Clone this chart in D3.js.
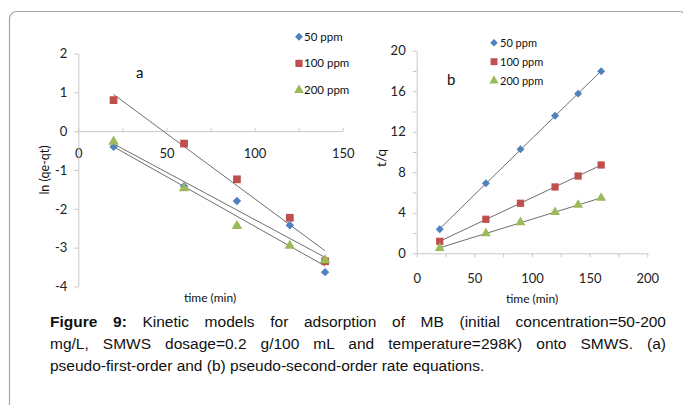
<!DOCTYPE html>
<html><head><meta charset="utf-8">
<script src="https://cdn.jsdelivr.net/npm/d3@7"></script>
<style>body{margin:0;background:#fff}svg{display:block}</style>
</head><body>
<script>
// ---- data ----
const seriesNames = ["50 ppm", "100 ppm", "200 ppm"];
const seriesColors = ["#4F81BD", "#C0504D", "#9BBB59"];
// (a) pseudo-first-order
const timesA = [20, 60, 90, 120, 140];
const lnA50  = [-0.40, -1.42, -1.80, -2.42, -3.63];
const lnA100 = [0.80, -0.32, -1.24, -2.23, -3.35];
const lnA200 = [-0.27, -1.47, -2.44, -2.95, -3.32];
const ticksAx = [0, 25, 50, 75, 100, 125, 150];
const ticksAy = [-4, -3, -2, -1, 0, 1, 2];
// (b) pseudo-second-order
const timesB = [20, 60, 90, 120, 140, 160];
const tqB50  = [2.37, 6.91, 10.27, 13.58, 15.76, 17.97];
const tqB100 = [1.18, 3.36, 4.94, 6.55, 7.63, 8.72];
const tqB200 = [0.52, 1.97, 3.06, 4.05, 4.77, 5.46];
const ticksBx = [0, 25, 50, 75, 100, 125, 150, 175, 200];
const ticksBy = [0, 2, 4, 6, 8, 10, 12, 14, 16, 18, 20];
const caption = [
  ["Figure 9:", " Kinetic models for adsorption of MB (initial concentration=50-200"],
  ["", "mg/L, SMWS dosage=0.2 g/100 mL and temperature=298K) onto SMWS. (a)"],
  ["", "pseudo-first-order and (b) pseudo-second-order rate equations."]
];

const W = 683, H = 405;
const svg = d3.select("body").append("svg").attr("width", W).attr("height", H);
svg.append("rect").attr("x", 9.5).attr("y", 11.5).attr("width", 677).attr("height", 430)
  .attr("rx", 7).attr("fill", "none").attr("stroke", "#a6a6a6").attr("stroke-width", 1.2);

const chartFont = "Lato, 'Open Sans', sans-serif";
const axisCol = "#c8c8c8";

function regression(xs, ys) {
  const n = xs.length, mx = d3.mean(xs), my = d3.mean(ys);
  let sxy = 0, sxx = 0;
  for (let i = 0; i < n; i++) { sxy += (xs[i]-mx)*(ys[i]-my); sxx += (xs[i]-mx)**2; }
  const b = sxy / sxx, a = my - b*mx;
  return x => a + b*x;
}

function markers(g, xs, ys, x, y, idx, sz) {
  const sym = [d3.symbolSquare, d3.symbolSquare, d3.symbolTriangle][idx];
  const size = [sz*0.75, sz*1.25, sz][idx];
  g.selectAll(null).data(xs.map((t, i) => [t, ys[i]])).join("path")
    .attr("d", d3.symbol().type(sym).size(size))
    .attr("transform", d => `translate(${x(d[0])},${y(d[1])})` + (idx === 0 ? " rotate(45)" : ""))
    .attr("fill", seriesColors[idx]);
}

function styleAxis(g, fs) {
  g.select(".domain").attr("stroke", axisCol);
  g.selectAll(".tick line").attr("stroke", axisCol);
  g.selectAll("text").attr("font-family", chartFont).attr("font-size", fs).attr("fill", "#222");
}

function drawChart(opt) {
  const { x, y, times, sets, ticksX, ticksY, xAxisY, xPad, xTickSize, label, labelPos,
          yTitle, yTitlePos, yTitleFs, xTitlePos, legend, markerSize } = opt;
  const g = svg.append("g");
  const gx = g.append("g").attr("transform", `translate(0,${xAxisY})`)
    .call(d3.axisBottom(x).tickValues(ticksX).tickFormat(d => d % 50 === 0 ? d : "")
      .tickSizeInner(xTickSize).tickSizeOuter(0).tickPadding(xPad));
  styleAxis(gx, 13);
  const gy = g.append("g").attr("transform", `translate(${x.range()[0]},0)`)
    .call(d3.axisLeft(y).tickValues(ticksY).tickFormat(d => opt.yFmt(d) ? d : "")
      .tickSize(4).tickSizeOuter(0).tickPadding(7));
  styleAxis(gy, 13);

  sets.forEach((ys, i) => {
    const f = regression(times, ys);
    const x0 = d3.min(times), x1 = d3.max(times);
    g.append("line").attr("x1", x(x0)).attr("y1", y(f(x0))).attr("x2", x(x1)).attr("y2", y(f(x1)))
      .attr("stroke", "#6e6e6e").attr("stroke-width", 1);
  });
  sets.forEach((ys, i) => markers(g, times, ys, x, y, i, markerSize));

  g.append("text").attr("x", labelPos[0]).attr("y", labelPos[1]).text(label)
    .attr("font-family", chartFont).attr("font-size", 15).attr("fill", "#111");
  g.append("text").attr("transform", `translate(${yTitlePos[0]},${yTitlePos[1]}) rotate(-90)`)
    .attr("text-anchor", "middle").attr("dy", "0.35em").text(yTitle)
    .attr("font-family", chartFont).attr("font-size", yTitleFs).attr("fill", "#111");
  g.append("text").attr("x", xTitlePos[0]).attr("y", xTitlePos[1]).attr("text-anchor", "middle")
    .attr("dy", "0.35em").text("time (min)")
    .attr("font-family", chartFont).attr("font-size", 12).attr("fill", "#111");

  const lg = g.append("g");
  seriesNames.forEach((name, i) => {
    const ly = legend.y0 + i*legend.dy;
    const sym = [d3.symbolSquare, d3.symbolSquare, d3.symbolTriangle][i];
    const size = [legend.ms*0.75, legend.ms*1.25, legend.ms][i];
    lg.append("path").attr("d", d3.symbol().type(sym).size(size))
      .attr("transform", `translate(${legend.x},${ly})` + (i === 0 ? " rotate(45)" : ""))
      .attr("fill", seriesColors[i]);
    lg.append("text").attr("x", legend.x + legend.tx).attr("y", ly).attr("dy", "0.35em").text(name)
      .attr("font-family", chartFont).attr("font-size", legend.fs).attr("fill", "#111");
  });
}

const xA = d3.scaleLinear().domain([0, 150]).range([78.3, 342.7]);
const yA = d3.scaleLinear().domain([-4, 2]).range([286.5, 53.5]);
drawChart({
  x: xA, y: yA, times: timesA, sets: [lnA50, lnA100, lnA200],
  ticksX: ticksAx, ticksY: ticksAy, yFmt: d => true, xAxisY: yA(0), xPad: 18, xTickSize: -3,
  label: "a", labelPos: [136, 78], yTitle: "ln (qe-qt)", yTitleFs: 12.5, yTitlePos: [45, 170],
  xTitlePos: [210, 298], markerSize: 48,
  legend: { x: 299, y0: 36.7, dy: 26.7, tx: 5, fs: 11.5, ms: 42 }
});

const xB = d3.scaleLinear().domain([0, 200]).range([416.7, 647.3]);
const yB = d3.scaleLinear().domain([0, 20]).range([253.3, 50.7]);
drawChart({
  x: xB, y: yB, times: timesB, sets: [tqB50, tqB100, tqB200],
  ticksX: ticksBx, ticksY: ticksBy, yFmt: d => d % 4 === 0, xAxisY: yB(0), xPad: 16, xTickSize: 4,
  label: "b", labelPos: [447, 85], yTitle: "t/q", yTitleFs: 13.5, yTitlePos: [381, 158],
  xTitlePos: [532, 299], markerSize: 42,
  legend: { x: 494, y0: 42.7, dy: 19, tx: 6, fs: 11, ms: 38 }
});

// caption: first two lines justified to the full width by word spacing
const capY = [326.5, 348.5, 370.5];
const capFont = "'Liberation Sans', Arial, sans-serif";
caption.forEach((parts, i) => {
  const t = svg.append("text").attr("x", 50).attr("y", capY[i])
    .attr("font-family", capFont).attr("font-size", 15.5).attr("fill", "#111");
  if (parts[0]) t.append("tspan").attr("font-weight", "bold").text(parts[0]);
  t.append("tspan").text(parts[1]);
  if (i < 2) {
    const w = t.node().getComputedTextLength();
    const n = (parts[0] + parts[1]).split(" ").length - 1;
    t.attr("word-spacing", (616 - w) / n);
  }
});
</script>
</body></html>
